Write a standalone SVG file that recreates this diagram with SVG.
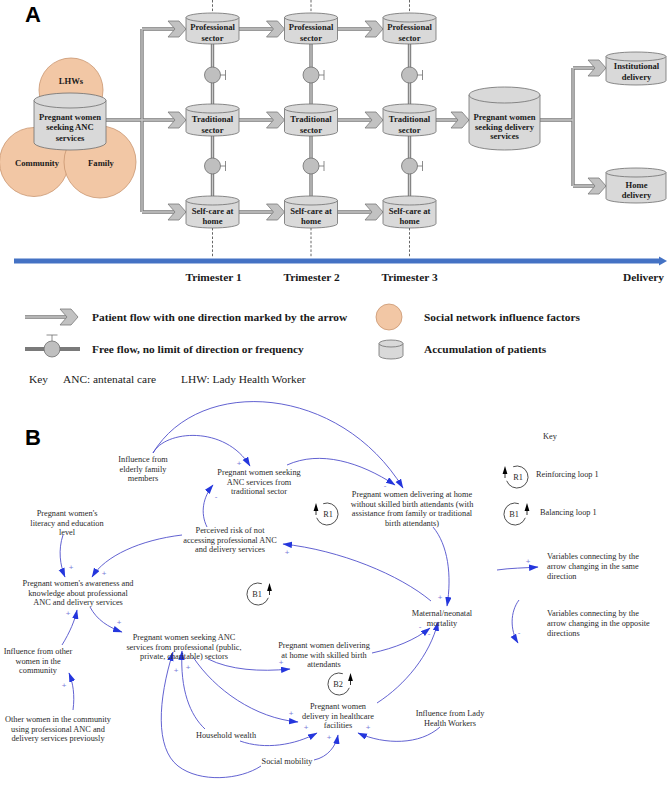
<svg xmlns="http://www.w3.org/2000/svg" xmlns:xlink="http://www.w3.org/1999/xlink" width="669" height="792" viewBox="0 0 669 792">
<style>
.lbl{font-family:"Liberation Sans",Arial,sans-serif;font-weight:bold;font-size:22px;fill:#000}
.cb{font-family:"Liberation Serif","Times New Roman",serif;font-weight:bold;font-size:8.6px;fill:#1a1a1a;text-anchor:middle}
.lg{font-family:"Liberation Serif","Times New Roman",serif;font-weight:bold;font-size:11.4px;fill:#1a1a1a}
.kt{font-family:"Liberation Serif","Times New Roman",serif;font-size:11.4px;fill:#1a1a1a}
.bt{font-family:"Liberation Serif","Times New Roman",serif;font-size:8.3px;fill:#2a2a2a;text-anchor:middle}
.bl{font-family:"Liberation Serif","Times New Roman",serif;font-size:8.3px;fill:#2a2a2a}
.pm{font-family:"Liberation Sans",Arial,sans-serif;font-size:8px;fill:#7a7ad8;text-anchor:middle}
.cyl{fill:#d9d9d9;stroke:#6e6e6e;stroke-width:0.8}
.soc{fill:#f2c7a5;stroke:#c99670;stroke-width:0.8}
.po{fill:none;stroke:#7a7a7a;stroke-width:3.4}
.pi{fill:none;stroke:#c9c9c9;stroke-width:1.3}
.dash{stroke:#555;stroke-width:0.9;stroke-dasharray:2.5,1.8;fill:none}
.valve{fill:#bfbfbf;stroke:#6e6e6e;stroke-width:0.8}
.vt{fill:none;stroke:#6e6e6e;stroke-width:0.8}
.ar{fill:none;stroke:#5050cc;stroke-width:0.9;marker-end:url(#ah)}
.loop{fill:none;stroke:#222;stroke-width:0.8}
</style>
<defs>
<path id="chev" d="M-18,-8 L-7,-8 L0,0 L-7,8 L-18,8 L-11,0 Z" fill="#c2c2c2" stroke="#7a7a7a" stroke-width="0.8"/>
<marker id="ah" markerUnits="userSpaceOnUse" markerWidth="11" markerHeight="8" refX="9" refY="3.2" orient="auto">
<path d="M0,0 L9.5,3.2 L0,6.4 Z" fill="#2436dd"/>
</marker>
</defs>
<rect x="0" y="0" width="669" height="792" fill="#fff"/>

<!-- Part A -->
<text class="lbl" x="25" y="22">A</text>

<g id="dashes">
<path class="dash" d="M212.5,0 V258 M311,0 V258 M409.5,0 V258"/>
</g>

<g id="social">
<circle class="soc" cx="71" cy="90" r="32"/>
<circle class="soc" cx="34" cy="162" r="34.5"/>
<circle class="soc" cx="100" cy="162" r="36"/>
<text class="cb" x="71" y="83.5">LHWs</text>
<text class="cb" x="37" y="165.5">Community</text>
<text class="cb" x="101" y="165.5">Family</text>
</g>

<g id="connectors-a">
<path class="po" d="M106,120 H175 M142,29 V212 M142,29 H175 M142,212 H175 M239,29 H273.5 M239,120 H273.5 M239,212 H273.5 M337.5,29 H372 M337.5,120 H372 M337.5,212 H372 M436,120 H458 M540,120 H573 M573,68 V186 M573,68 H595 M573,186 H595 M212.5,44 V104 M212.5,136 V196 M311,44 V104 M311,136 V196 M409.5,44 V104 M409.5,136 V196 M25,317 H67"/>
<path class="pi" d="M106,120 H175 M142,29 V212 M142,29 H175 M142,212 H175 M239,29 H273.5 M239,120 H273.5 M239,212 H273.5 M337.5,29 H372 M337.5,120 H372 M337.5,212 H372 M436,120 H458 M540,120 H573 M573,68 V186 M573,68 H595 M573,186 H595 M212.5,44 V104 M212.5,136 V196 M311,44 V104 M311,136 V196 M409.5,44 V104 M409.5,136 V196 M25,317 H67"/>
<use xlink:href="#chev" x="186" y="29"/>
<use xlink:href="#chev" x="186" y="120"/>
<use xlink:href="#chev" x="186" y="212"/>
<use xlink:href="#chev" x="284.5" y="29"/>
<use xlink:href="#chev" x="284.5" y="120"/>
<use xlink:href="#chev" x="284.5" y="212"/>
<use xlink:href="#chev" x="383" y="29"/>
<use xlink:href="#chev" x="383" y="120"/>
<use xlink:href="#chev" x="383" y="212"/>
<use xlink:href="#chev" x="469" y="120"/>
<use xlink:href="#chev" x="606" y="68"/>
<use xlink:href="#chev" x="606" y="186"/>
<circle class="valve" cx="212.5" cy="75" r="8"/>
<circle class="valve" cx="212.5" cy="166" r="8"/>
<circle class="valve" cx="311" cy="75" r="8"/>
<circle class="valve" cx="311" cy="166" r="8"/>
<circle class="valve" cx="409.5" cy="75" r="8"/>
<circle class="valve" cx="409.5" cy="166" r="8"/>
<path class="vt" d="M220.5,75 H225.5 M225.5,70 V80 M220.5,166 H225.5 M225.5,161 V171 M319,75 H324 M324,70 V80 M319,166 H324 M324,161 V171 M417.5,75 H422.5 M422.5,70 V80 M417.5,166 H422.5 M422.5,161 V171"/>
</g>

<g id="anc">
<path class="cyl" d="M34,100.5 V142.5 A36,7.5 0 0 0 106,142.5 V100.5 Z"/>
<ellipse class="cyl" cx="70" cy="100.5" rx="36" ry="7.5"/>
<text class="cb" x="70" y="119.5">Pregnant women</text>
<text class="cb" x="70" y="130">seeking ANC</text>
<text class="cb" x="70" y="140.5">services</text>
</g>

<g id="prof1">
<path class="cyl" d="M186,17.5 V39.5 A26.5,4.5 0 0 0 239,39.5 V17.5 Z"/>
<ellipse class="cyl" cx="212.5" cy="17.5" rx="26.5" ry="4.5"/>
<text class="cb" x="212.5" y="30">Professional</text>
<text class="cb" x="212.5" y="40.5">sector</text>
</g>
<g id="trad1">
<path class="cyl" d="M186,108.5 V131.5 A26.5,4.5 0 0 0 239,131.5 V108.5 Z"/>
<ellipse class="cyl" cx="212.5" cy="108.5" rx="26.5" ry="4.5"/>
<text class="cb" x="212.5" y="121.5">Traditional</text>
<text class="cb" x="212.5" y="132.5">sector</text>
</g>
<g id="self1">
<path class="cyl" d="M186,200.5 V223.5 A26.5,4.5 0 0 0 239,223.5 V200.5 Z"/>
<ellipse class="cyl" cx="212.5" cy="200.5" rx="26.5" ry="4.5"/>
<text class="cb" x="212.5" y="213.5">Self-care at</text>
<text class="cb" x="212.5" y="224">home</text>
</g>

<g id="prof2">
<path class="cyl" d="M284.5,17.5 V39.5 A26.5,4.5 0 0 0 337.5,39.5 V17.5 Z"/>
<ellipse class="cyl" cx="311" cy="17.5" rx="26.5" ry="4.5"/>
<text class="cb" x="311" y="30">Professional</text>
<text class="cb" x="311" y="40.5">sector</text>
</g>
<g id="trad2">
<path class="cyl" d="M284.5,108.5 V131.5 A26.5,4.5 0 0 0 337.5,131.5 V108.5 Z"/>
<ellipse class="cyl" cx="311" cy="108.5" rx="26.5" ry="4.5"/>
<text class="cb" x="311" y="121.5">Traditional</text>
<text class="cb" x="311" y="132.5">sector</text>
</g>
<g id="self2">
<path class="cyl" d="M284.5,200.5 V223.5 A26.5,4.5 0 0 0 337.5,223.5 V200.5 Z"/>
<ellipse class="cyl" cx="311" cy="200.5" rx="26.5" ry="4.5"/>
<text class="cb" x="311" y="213.5">Self-care at</text>
<text class="cb" x="311" y="224">home</text>
</g>

<g id="prof3">
<path class="cyl" d="M383,17.5 V39.5 A26.5,4.5 0 0 0 436,39.5 V17.5 Z"/>
<ellipse class="cyl" cx="409.5" cy="17.5" rx="26.5" ry="4.5"/>
<text class="cb" x="409.5" y="30">Professional</text>
<text class="cb" x="409.5" y="40.5">sector</text>
</g>
<g id="trad3">
<path class="cyl" d="M383,108.5 V131.5 A26.5,4.5 0 0 0 436,131.5 V108.5 Z"/>
<ellipse class="cyl" cx="409.5" cy="108.5" rx="26.5" ry="4.5"/>
<text class="cb" x="409.5" y="121.5">Traditional</text>
<text class="cb" x="409.5" y="132.5">sector</text>
</g>
<g id="self3">
<path class="cyl" d="M383,200.5 V223.5 A26.5,4.5 0 0 0 436,223.5 V200.5 Z"/>
<ellipse class="cyl" cx="409.5" cy="200.5" rx="26.5" ry="4.5"/>
<text class="cb" x="409.5" y="213.5">Self-care at</text>
<text class="cb" x="409.5" y="224">home</text>
</g>

<g id="delivery-seek">
<path class="cyl" d="M469,95 V142 A35.5,8 0 0 0 540,142 V95 Z"/>
<ellipse class="cyl" cx="504.5" cy="95" rx="35.5" ry="8"/>
<text class="cb" x="504.5" y="120">Pregnant women</text>
<text class="cb" x="504.5" y="129.5">seeking delivery</text>
<text class="cb" x="504.5" y="139">services</text>
</g>
<g id="institutional">
<path class="cyl" d="M606,56.5 V80.5 A30,4.5 0 0 0 666,80.5 V56.5 Z"/>
<ellipse class="cyl" cx="636" cy="56.5" rx="30" ry="4.5"/>
<text class="cb" x="636.5" y="68.5">Institutional</text>
<text class="cb" x="636.5" y="79.5">delivery</text>
</g>
<g id="home">
<path class="cyl" d="M606,172.5 V198.5 A30,4.5 0 0 0 666,198.5 V172.5 Z"/>
<ellipse class="cyl" cx="636" cy="172.5" rx="30" ry="4.5"/>
<text class="cb" x="636.5" y="187.5">Home</text>
<text class="cb" x="636.5" y="198">delivery</text>
</g>

<g id="timeline">
<path d="M14,261 H660" stroke="#4472c4" stroke-width="5" fill="none"/>
<path d="M659,256.5 L667,261 L659,265.5 Z" fill="#4472c4"/>
<text class="lg" x="213.5" y="281" text-anchor="middle">Trimester 1</text>
<text class="lg" x="311.5" y="281" text-anchor="middle">Trimester 2</text>
<text class="lg" x="409.5" y="281" text-anchor="middle">Trimester 3</text>
<text class="lg" x="643.5" y="281" text-anchor="middle">Delivery</text>
</g>

<g id="legend-a">
<use xlink:href="#chev" x="78" y="317"/>
<text class="lg" x="92" y="320.5">Patient flow with one direction marked by the arrow</text>
<path d="M25,349 H80" stroke="#7a7a7a" stroke-width="4" fill="none"/>
<circle class="valve" cx="52" cy="349" r="8"/>
<path class="vt" d="M52,341 V335 M46.5,335 H57.5"/>
<text class="lg" x="92" y="352.5">Free flow, no limit of direction or frequency</text>
<circle class="soc" cx="389" cy="317" r="13"/>
<text class="lg" x="424" y="320.5">Social network influence factors</text>
<path class="cyl" d="M379,343.5 V355.5 A12,3.5 0 0 0 403,355.5 V343.5 Z"/>
<ellipse class="cyl" cx="391" cy="343.5" rx="12" ry="3.5"/>
<text class="lg" x="424" y="352.5">Accumulation of patients</text>
<text class="kt" x="29" y="382.5">Key</text>
<text class="kt" x="63" y="382.5">ANC: antenatal care</text>
<text class="kt" x="181" y="382.5">LHW: Lady Health Worker</text>
</g>

<!-- Part B -->
<text class="lbl" x="25" y="445">B</text>

<g id="connectors-b">
<path class="ar" d="M153,453 C165,430 225,425 250,466"/>
<path class="ar" d="M153,453 C200,375 340,385 403,488"/>
<path class="ar" d="M287,465 C320,450 360,462 395,485"/>
<path class="ar" d="M433,527 C448,545 452,575 447,606"/>
<path class="ar" d="M431,601 C400,575 340,550 283,544"/>
<path class="ar" d="M207,527 C200,513 203,497 213,485"/>
<path class="ar" d="M182,535 C140,540 105,556 92,577"/>
<path class="ar" d="M63,535 C58,550 60,565 65,577"/>
<path class="ar" d="M62,645 C70,632 75,620 77,610"/>
<path class="ar" d="M73,710 C75,695 73,683 69,673"/>
<path class="ar" d="M90,607 C97,620 108,627 122,632"/>
<path class="ar" d="M208,659 C230,670 260,672 290,669"/>
<path class="ar" d="M193,657 C215,690 255,718 298,722"/>
<path class="ar" d="M205,729 C190,715 180,690 182,651"/>
<path class="ar" d="M240,741 C265,750 295,745 317,733"/>
<path class="ar" d="M261,766 C240,780 200,783 178,766 C155,748 158,700 173,652"/>
<path class="ar" d="M314,760 C328,757 336,746 338,735"/>
<path class="ar" d="M440,727 C420,745 385,745 358,733"/>
<path class="ar" d="M377,703 C405,685 430,655 438,622"/>
<path class="ar" d="M372,653 C395,648 415,640 430,628"/>
<path class="ar" d="M497,570 C510,568 525,568 538,567"/>
<path class="ar" d="M519,600 C510,612 510,630 518,643"/>
</g>

<g id="polarity">
<text class="pm" x="239" y="466">+</text>
<text class="pm" x="385" y="488">-</text>
<text class="pm" x="440" y="600">+</text>
<text class="pm" x="287" y="555">+</text>
<text class="pm" x="216" y="499">-</text>
<text class="pm" x="104" y="576">+</text>
<text class="pm" x="71" y="570">+</text>
<text class="pm" x="68" y="616">+</text>
<text class="pm" x="64" y="688">+</text>
<text class="pm" x="119" y="625">+</text>
<text class="pm" x="281" y="665">+</text>
<text class="pm" x="291" y="716">+</text>
<text class="pm" x="188" y="670">+</text>
<text class="pm" x="176" y="673">+</text>
<text class="pm" x="306" y="730">+</text>
<text class="pm" x="329" y="740">+</text>
<text class="pm" x="368" y="730">+</text>
<text class="pm" x="420" y="629">-</text>
<text class="pm" x="429" y="636">-</text>
<text class="pm" x="528" y="564">+</text>
<text class="pm" x="519" y="635">-</text>
</g>

<g id="elderly"><text class="bt" x="143" y="462">Influence from</text><text class="bt" x="143" y="471.5">elderly family</text><text class="bt" x="143" y="481">members</text></g>
<g id="trad-anc"><text class="bt" x="259" y="475">Pregnant women seeking</text><text class="bt" x="259" y="484.5">ANC services from</text><text class="bt" x="259" y="494">traditional sector</text></g>
<g id="home-nosba"><text class="bt" x="412" y="497">Pregnant women delivering at home</text><text class="bt" x="412" y="506.5">without skilled birth attendants (with</text><text class="bt" x="412" y="516">assistance from family or traditional</text><text class="bt" x="412" y="525.5">birth attendants)</text></g>
<g id="literacy"><text class="bt" x="67" y="516">Pregnant women's</text><text class="bt" x="67" y="525.5">literacy and education</text><text class="bt" x="67" y="535">level</text></g>
<g id="risk"><text class="bt" x="230" y="533">Perceived risk of not</text><text class="bt" x="230" y="542.5">accessing professional ANC</text><text class="bt" x="230" y="552">and delivery services</text></g>
<g id="awareness"><text class="bt" x="78" y="586">Pregnant women's awareness and</text><text class="bt" x="78" y="595.5">knowledge about professional</text><text class="bt" x="78" y="605">ANC and delivery services</text></g>
<g id="other-influence"><text class="bt" x="38" y="654">Influence from other</text><text class="bt" x="38" y="663.5">women in the</text><text class="bt" x="38" y="673">community</text></g>
<g id="other-women"><text class="bt" x="58" y="722">Other women in the community</text><text class="bt" x="58" y="731.5">using professional ANC and</text><text class="bt" x="58" y="741">delivery services previously</text></g>
<g id="prof-anc"><text class="bt" x="184" y="640">Pregnant women seeking ANC</text><text class="bt" x="184" y="649.5">services from professional (public,</text><text class="bt" x="184" y="659">private, charitable) sectors</text></g>
<g id="wealth"><text class="bt" x="226" y="738">Household wealth</text></g>
<g id="mobility"><text class="bt" x="287" y="764">Social mobility</text></g>
<g id="mortality"><text class="bt" x="442" y="616">Maternal/neonatal</text><text class="bt" x="442" y="625.5">mortality</text></g>
<g id="home-sba"><text class="bt" x="324" y="648">Pregnant women delivering</text><text class="bt" x="324" y="657.5">at home with skilled birth</text><text class="bt" x="324" y="667">attendants</text></g>
<g id="facilities"><text class="bt" x="338" y="709">Pregnant women</text><text class="bt" x="338" y="718.5">delivery in healthcare</text><text class="bt" x="338" y="728">facilities</text></g>
<g id="lhw"><text class="bt" x="450" y="716">Influence from Lady</text><text class="bt" x="450" y="725.5">Health Workers</text></g>

<g id="loop-r1">
<path class="loop" d="M316.7,517.8 A11,11 0 1 0 323.2,503.7"/>
<path d="M313.6,511 L318.4,511 L316,503 Z" fill="#000"/>
<path d="M316,511 V515" stroke="#000" stroke-width="0.8"/>
<text class="bt" x="328" y="517">R1</text>
</g>
<g id="loop-b1">
<path class="loop" d="M268.3,597.8 A11,11 0 1 1 261.8,583.7"/>
<path d="M267.1,591 L271.9,591 L269.5,583 Z" fill="#000"/>
<path d="M269.5,591 V595" stroke="#000" stroke-width="0.8"/>
<text class="bt" x="257" y="597">B1</text>
</g>
<g id="loop-b2">
<path class="loop" d="M349.3,687.8 A11,11 0 1 1 342.8,673.7"/>
<path d="M348.1,681 L352.9,681 L350.5,673 Z" fill="#000"/>
<path d="M350.5,681 V685" stroke="#000" stroke-width="0.8"/>
<text class="bt" x="338" y="687">B2</text>
</g>

<g id="key-b">
<text class="bl" x="550" y="439" text-anchor="middle">Key</text>
<path class="loop" d="M506.7,480.8 A11,11 0 1 0 513.2,466.7"/>
<path d="M502.6,474 L507.4,474 L505,466 Z" fill="#000"/>
<path d="M505,474 V478" stroke="#000" stroke-width="0.8"/>
<text class="bt" x="518" y="480">R1</text>
<text class="bl" x="536" y="477">Reinforcing loop 1</text>
<path class="loop" d="M525.3,517.8 A11,11 0 1 1 518.8,503.7"/>
<path d="M524.6,511 L529.4,511 L527,503 Z" fill="#000"/>
<path d="M527,511 V515" stroke="#000" stroke-width="0.8"/>
<text class="bt" x="514" y="517">B1</text>
<text class="bl" x="540" y="515">Balancing loop 1</text>
<text class="bl" x="547" y="559">Variables connecting by the</text>
<text class="bl" x="547" y="569">arrow changing in the same</text>
<text class="bl" x="547" y="579">direction</text>
<text class="bl" x="547" y="616">Variables connecting by the</text>
<text class="bl" x="547" y="626">arrow changing in the opposite</text>
<text class="bl" x="547" y="636">directions</text>
</g>
</svg>
